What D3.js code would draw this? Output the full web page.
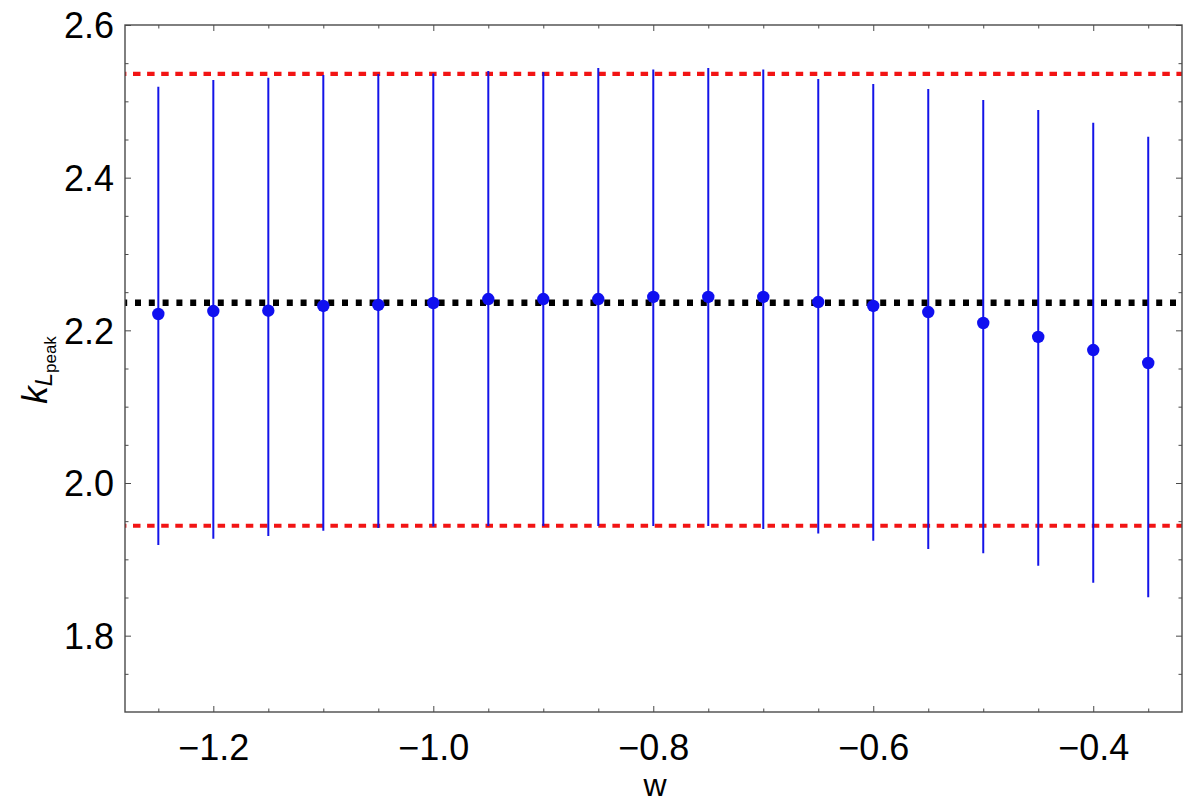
<!DOCTYPE html>
<html>
<head>
<meta charset="utf-8">
<script src="https://cdn.jsdelivr.net/npm/d3@7"></script>
<style>
  html, body { margin: 0; padding: 0; background: #fff; }
  svg { display: block; font-family: "Liberation Sans", Arial, sans-serif; }
</style>
</head>
<body>
<svg id="chart" width="1195" height="805"></svg>
<script>
// Parameter w and the peak wavenumber with its uncertainty interval
const wValues = [-1.25, -1.2, -1.15, -1.1, -1.05, -1.0, -0.95, -0.9, -0.85, -0.8,
                 -0.75, -0.7, -0.65, -0.6, -0.55, -0.5, -0.45, -0.4, -0.35];
const kPeak   = [2.2214, 2.2253, 2.2257, 2.2319, 2.2332, 2.2358, 2.2410, 2.2410, 2.2410, 2.2437,
                 2.2437, 2.2437, 2.2371, 2.2319, 2.2240, 2.2096, 2.1913, 2.1742, 2.1572];
const kUpper  = [2.5192, 2.5279, 2.5310, 2.5345, 2.5358, 2.5365, 2.5397, 2.5384, 2.5437, 2.5417,
                 2.5437, 2.5417, 2.5293, 2.5227, 2.5162, 2.5017, 2.4886, 2.4720, 2.4537];
const kLower  = [1.9187, 1.9270, 1.9305, 1.9375, 1.9410, 1.9430, 1.9436, 1.9436, 1.9436, 1.9436,
                 1.9436, 1.9397, 1.9340, 1.9244, 1.9135, 1.9079, 1.8916, 1.8694, 1.8503];

// Reference levels: central value and band limits
const refCentral = [2.236];
const refBand    = [2.536, 1.944];

// Axis ticks
const xMajorTicks = [-1.2, -1.0, -0.8, -0.6, -0.4];
const xMinorTicks = [-1.25, -1.15, -1.1, -1.05, -0.95, -0.9, -0.85, -0.75, -0.7, -0.65,
                     -0.55, -0.5, -0.45, -0.35];
const yMajorTicks = [1.8, 2.0, 2.2, 2.4, 2.6];
const yMinorTicks = [1.75, 1.85, 1.9, 1.95, 2.05, 2.1, 2.15, 2.25, 2.3, 2.35, 2.45, 2.5, 2.55];

const plotLeft = 125, plotRight = 1182, plotTop = 25, plotBottom = 712;

const x = d3.scaleLinear().domain([-1.2803, -0.3193]).range([plotLeft, plotRight]);
const y = d3.scaleLinear().domain([1.7, 2.6]).range([plotBottom, plotTop]);

const svg = d3.select("#chart");

const data = wValues.map((w, i) => ({ w, k: kPeak[i], lo: kLower[i], hi: kUpper[i] }));

const plot = svg.append("g");

// Band limits (red dashed)
plot.selectAll("line.band").data(refBand).enter().append("line")
  .attr("class", "band")
  .attr("x1", plotLeft).attr("x2", plotRight)
  .attr("y1", d => y(d)).attr("y2", d => y(d))
  .attr("stroke", "#f21414").attr("stroke-width", 4.2)
  .attr("stroke-dasharray", "7.5 6.6").attr("stroke-dashoffset", -8);

// Central value (black dotted)
plot.selectAll("line.central").data(refCentral).enter().append("line")
  .attr("class", "central")
  .attr("x1", plotLeft).attr("x2", plotRight)
  .attr("y1", d => y(d)).attr("y2", d => y(d))
  .attr("stroke", "#000").attr("stroke-width", 6.5)
  .attr("stroke-dasharray", "6 7.8").attr("stroke-dashoffset", -10);

// Error bars
plot.selectAll("line.err").data(data).enter().append("line")
  .attr("class", "err")
  .attr("x1", d => x(d.w)).attr("x2", d => x(d.w))
  .attr("y1", d => y(d.lo)).attr("y2", d => y(d.hi))
  .attr("stroke", "#1414e8").attr("stroke-width", 2);

// Points
plot.selectAll("circle.pt").data(data).enter().append("circle")
  .attr("class", "pt")
  .attr("cx", d => x(d.w)).attr("cy", d => y(d.k))
  .attr("r", 6.2)
  .attr("fill", "#1010f0");

// Frame
const frameColor = "#4a4a4a";
svg.append("rect")
  .attr("x", plotLeft).attr("y", plotTop)
  .attr("width", plotRight - plotLeft).attr("height", plotBottom - plotTop)
  .attr("fill", "none").attr("stroke", frameColor).attr("stroke-width", 1.4);

function styleTicks(g) {
  g.select(".domain").remove();
  g.selectAll(".tick line").attr("stroke", frameColor);
  return g;
}

// Bottom axis and labels
const gxb = styleTicks(svg.append("g").attr("transform", `translate(0,${plotBottom})`)
  .call(d3.axisBottom(x).tickValues(xMajorTicks).tickSizeInner(-6).tickSizeOuter(0)
    .tickFormat(d => d3.format(".1f")(d).replace("-", "\u2212"))));
gxb.selectAll(".tick text").attr("font-size", 36).attr("fill", "#000")
  .attr("y", 48).attr("dy", 0);
styleTicks(svg.append("g").attr("transform", `translate(0,${plotBottom})`)
  .call(d3.axisBottom(x).tickValues(xMinorTicks).tickSizeInner(-3.5).tickSizeOuter(0).tickFormat("")));

// Top axis ticks
styleTicks(svg.append("g").attr("transform", `translate(0,${plotTop})`)
  .call(d3.axisTop(x).tickValues(xMajorTicks).tickSizeInner(-6).tickSizeOuter(0).tickFormat("")));
styleTicks(svg.append("g").attr("transform", `translate(0,${plotTop})`)
  .call(d3.axisTop(x).tickValues(xMinorTicks).tickSizeInner(-3.5).tickSizeOuter(0).tickFormat("")));

// Left axis and labels
const gyl = styleTicks(svg.append("g").attr("transform", `translate(${plotLeft},0)`)
  .call(d3.axisLeft(y).tickValues(yMajorTicks).tickSizeInner(-6).tickSizeOuter(0)
    .tickFormat(d3.format(".1f"))));
gyl.selectAll(".tick text").attr("font-size", 36).attr("fill", "#000")
  .attr("x", -11).attr("dy", "0.36em");
styleTicks(svg.append("g").attr("transform", `translate(${plotLeft},0)`)
  .call(d3.axisLeft(y).tickValues(yMinorTicks).tickSizeInner(-3.5).tickSizeOuter(0).tickFormat("")));

// Right axis ticks
styleTicks(svg.append("g").attr("transform", `translate(${plotRight},0)`)
  .call(d3.axisRight(y).tickValues(yMajorTicks).tickSizeInner(-6).tickSizeOuter(0).tickFormat("")));
styleTicks(svg.append("g").attr("transform", `translate(${plotRight},0)`)
  .call(d3.axisRight(y).tickValues(yMinorTicks).tickSizeInner(-3.5).tickSizeOuter(0).tickFormat("")));

// Axis titles
svg.append("text")
  .attr("x", 655).attr("y", 796)
  .attr("text-anchor", "middle").attr("font-size", 32).attr("fill", "#000")
  .text("w");

const yTitle = svg.append("text")
  .attr("transform", "translate(47,370) rotate(-90)")
  .attr("text-anchor", "middle").attr("fill", "#000");
yTitle.append("tspan").attr("font-size", 35).attr("font-style", "italic").text("k");
yTitle.append("tspan").attr("font-size", 24).attr("font-style", "italic").attr("dy", 5).text("L");
yTitle.append("tspan").attr("font-size", 17).attr("dy", 4).text("peak");
</script>
</body>
</html>
